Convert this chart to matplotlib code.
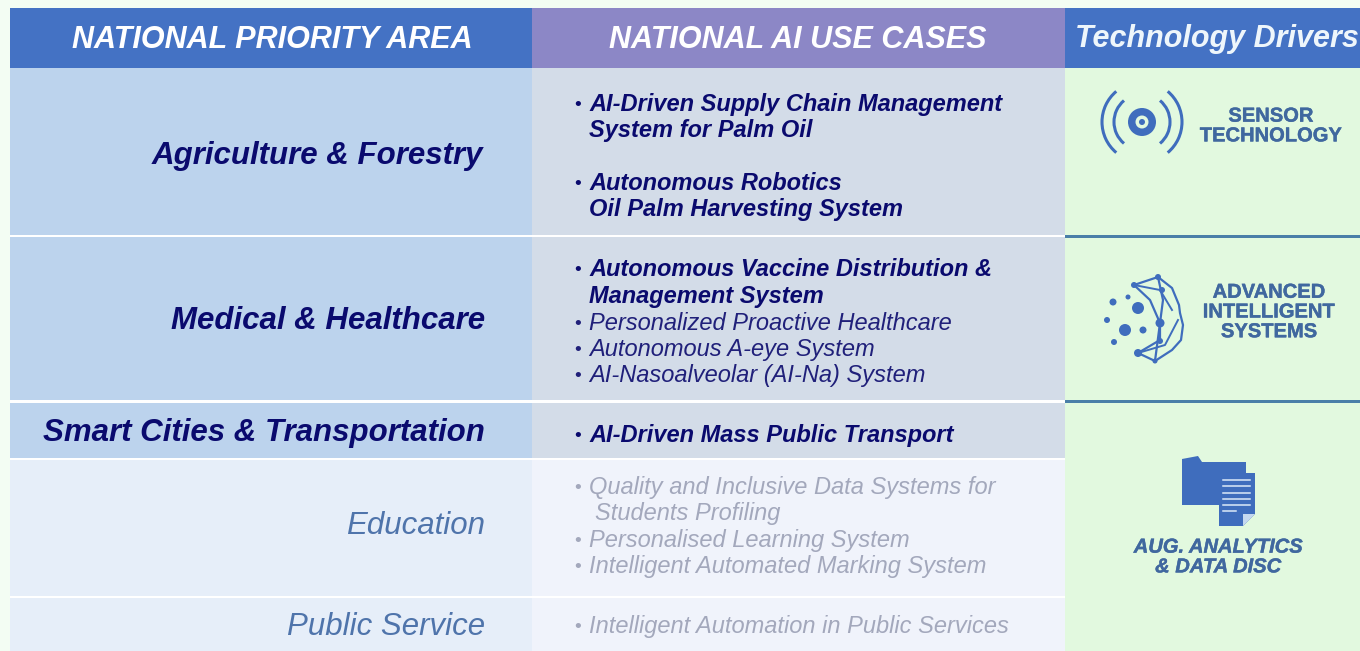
# -*- coding: utf-8 -*-

'''
National AI use cases table
'''

import matplotlib
matplotlib.use('Agg')
import matplotlib.pyplot as plt
import matplotlib.patheffects as pe
from matplotlib.patches import Rectangle, Circle, Arc, Polygon

plt.rcParams['font.family'] = ['Liberation Sans', 'DejaVu Sans']

HEADERS = ['NATIONAL PRIORITY AREA', 'NATIONAL AI USE CASES', 'Technology Drivers']
AREAS = ['Agriculture & Forestry', 'Medical & Healthcare',
         'Smart Cities & Transportation', 'Education', 'Public Service']
AREA_ACTIVE = [True, True, True, False, False]

# (text, bold, gray, has bullet)
CASES = [
    ['AI-Driven Supply Chain Management', True, False, True],
    ['System for Palm Oil', True, False, False],
    ['Autonomous Robotics', True, False, True],
    ['Oil Palm Harvesting System', True, False, False],
    ['Autonomous Vaccine Distribution &', True, False, True],
    ['Management System', True, False, False],
    ['Personalized Proactive Healthcare', False, False, True],
    ['Autonomous A-eye System', False, False, True],
    ['AI-Nasoalveolar (AI-Na) System', False, False, True],
    ['AI-Driven Mass Public Transport', True, False, True],
    ['Quality and Inclusive Data Systems for', False, True, True],
    ['Students Profiling', False, True, False],
    ['Personalised Learning System', False, True, True],
    ['Intelligent Automated Marking System', False, True, True],
    ['Intelligent Automation in Public Services', False, True, True],
]
CASE_Y = [111, 137, 190, 216, 276, 303, 330, 356, 382, 442, 494, 520, 547, 573, 633]

DRIVERS = ['SENSOR\nTECHNOLOGY', 'ADVANCED\nINTELLIGENT\nSYSTEMS', 'AUG. ANALYTICS\n& DATA DISC']
DRIVER_X = [1271, 1269, 1218]
DRIVER_Y = [126, 312, 557]

ROW_TOP = [68, 237, 403, 460, 598]
ROW_BOT = [235, 400, 458, 596, 651]
AREA_Y = [164, 329, 441, 534, 635]

AZUL = '#4472c4'
ROXO = '#8c87c6'
NAVY = '#0a0a6e'
ICONE = '#3f6dbd'
TXT_ICONE = '#40689f'
VERDE = '#e2f9df'

fig = plt.figure(figsize=(13.6, 6.51), dpi=100, facecolor='#f3fdf3')
ax = fig.add_axes([0, 0, 1, 1])
ax.set_xlim(0, 1360)
ax.set_ylim(651, 0)
ax.axis('off')


def ret(x0, y0, x1, y1, cor, z=1):
    ax.add_patch(Rectangle((x0, y0), x1 - x0, y1 - y0, fc=cor, ec='none', zorder=z))


# cabecalho
ret(10, 8, 532, 68, AZUL)
ret(532, 8, 1065, 68, ROXO)
ret(1065, 8, 1360, 68, AZUL)
ax.text(272, 48, HEADERS[0], color='white', fontsize=22, style='italic',
        weight='bold', ha='center', va='baseline')
ax.text(798, 48, HEADERS[1], color='white', fontsize=22, style='italic',
        weight='bold', ha='center', va='baseline')
ax.text(1217, 47, HEADERS[2], color='#eef6fb', fontsize=22, style='italic',
        weight='bold', ha='center', va='baseline')

# linhas da tabela
ret(10, 68, 1065, 651, 'white')
for topo, base, nome, y, ativo in zip(ROW_TOP, ROW_BOT, AREAS, AREA_Y, AREA_ACTIVE):
    ret(10, topo, 532, base, '#bcd3ed' if ativo else '#e6eef9', 2)
    ret(532, topo, 1065, base, '#d3dce8' if ativo else '#f0f3fb', 2)
    ax.text(485 if nome != AREAS[0] else 483, y, nome,
            color=NAVY if ativo else '#4f74ab', fontsize=22.5,
            style='italic', weight='bold' if ativo else 'normal',
            ha='right', va='baseline', zorder=3)

for (texto, negrito, cinza, marca), y in zip(CASES, CASE_Y):
    if cinza:
        cor = '#a3a8bc'
    else:
        cor = NAVY if negrito else '#20207a'
    if marca:
        ax.text(574, y - 1, '•', color=cor, fontsize=14, ha='left', va='baseline', zorder=3)
    x = 595 if texto == 'Students Profiling' else 589
    ax.text(x, y, texto, color=cor, fontsize=17, style='italic',
            weight='bold' if negrito else 'normal', ha='left', va='baseline', zorder=3)

# coluna da direita
ret(1065, 68, 1360, 651, VERDE)
ret(1065, 235, 1360, 237.5, '#4a7fa8', 2)
ret(1065, 400, 1360, 402.5, '#4a7fa8', 2)
for texto, x, y in zip(DRIVERS, DRIVER_X, DRIVER_Y):
    ax.text(x, y, texto, color=TXT_ICONE, fontsize=14.5, weight='bold',
            style='italic' if 'AUG' in texto else 'normal', ha='center', va='center',
            linespacing=1.05, zorder=3,
            path_effects=[pe.withStroke(linewidth=0.3, foreground=TXT_ICONE)])

# icone sensor
ax.add_patch(Circle((1142, 122), 14, fc=ICONE, ec='none', zorder=3))
ax.add_patch(Circle((1142, 122), 6.5, fc=VERDE, ec='none', zorder=4))
ax.add_patch(Circle((1142, 122), 3, fc=ICONE, ec='none', zorder=5))
for d, ang in [(56, 180), (80, 180), (56, 0), (80, 0)]:
    ax.add_patch(Arc((1142, 122), d, d, theta1=ang - 50, theta2=ang + 50,
                     color=ICONE, lw=2.2, zorder=3))

# icone cerebro/pontos
PONTOS_X = [1113, 1128, 1138, 1107, 1125, 1143, 1114]
PONTOS_Y = [302, 297, 308, 320, 330, 330, 342]
PONTOS_R = [3.5, 2.5, 6, 3, 6, 3.5, 3]
for x, y, r in zip(PONTOS_X, PONTOS_Y, PONTOS_R):
    ax.add_patch(Circle((x, y), r, fc=ICONE, ec='none', zorder=3))
CONTORNO_X = [1134, 1158, 1172, 1179, 1180, 1183, 1181, 1172, 1155, 1138]
CONTORNO_Y = [285, 277, 288, 305, 313, 325, 340, 350, 361, 353]
ax.plot(CONTORNO_X, CONTORNO_Y, color=ICONE, lw=1.6, zorder=3)
ax.plot([1134, 1150, 1160, 1160, 1138], [285, 300, 323, 340, 353], color=ICONE, lw=1.6, zorder=3)
ax.plot([1158, 1163, 1160, 1155], [277, 300, 323, 361], color=ICONE, lw=1.6, zorder=3)
ax.plot([1134, 1160, 1172], [285, 290, 310], color=ICONE, lw=1.4, zorder=3)
ax.plot([1138, 1165, 1178], [353, 345, 320], color=ICONE, lw=1.4, zorder=3)
for x, y, r in [(1134, 285, 3), (1158, 277, 3), (1162, 290, 3), (1160, 323, 4.5),
                (1160, 341, 3), (1138, 353, 4), (1155, 361, 2.5)]:
    ax.add_patch(Circle((x, y), r, fc=ICONE, ec='none', zorder=4))

# icone pasta
ax.add_patch(Polygon([(1182, 459), (1198, 456), (1202, 462), (1246, 462), (1246, 505), (1182, 505)],
                     fc=ICONE, ec='none', zorder=3))
ax.add_patch(Polygon([(1219, 473), (1255, 473), (1255, 514), (1243, 526), (1219, 526)],
                     fc=ICONE, ec='none', zorder=4))
ax.add_patch(Polygon([(1243, 526), (1255, 514), (1243, 514)], fc='#c5d8ef', ec='none', zorder=5))
for y in [480, 486, 493, 499, 505]:
    ax.plot([1223, 1250], [y, y], color='#dce9f8', lw=1.1, zorder=5)
ax.plot([1223, 1236], [511, 511], color='#dce9f8', lw=1.1, zorder=5)

fig.savefig('out.png', dpi=100, facecolor=fig.get_facecolor())
